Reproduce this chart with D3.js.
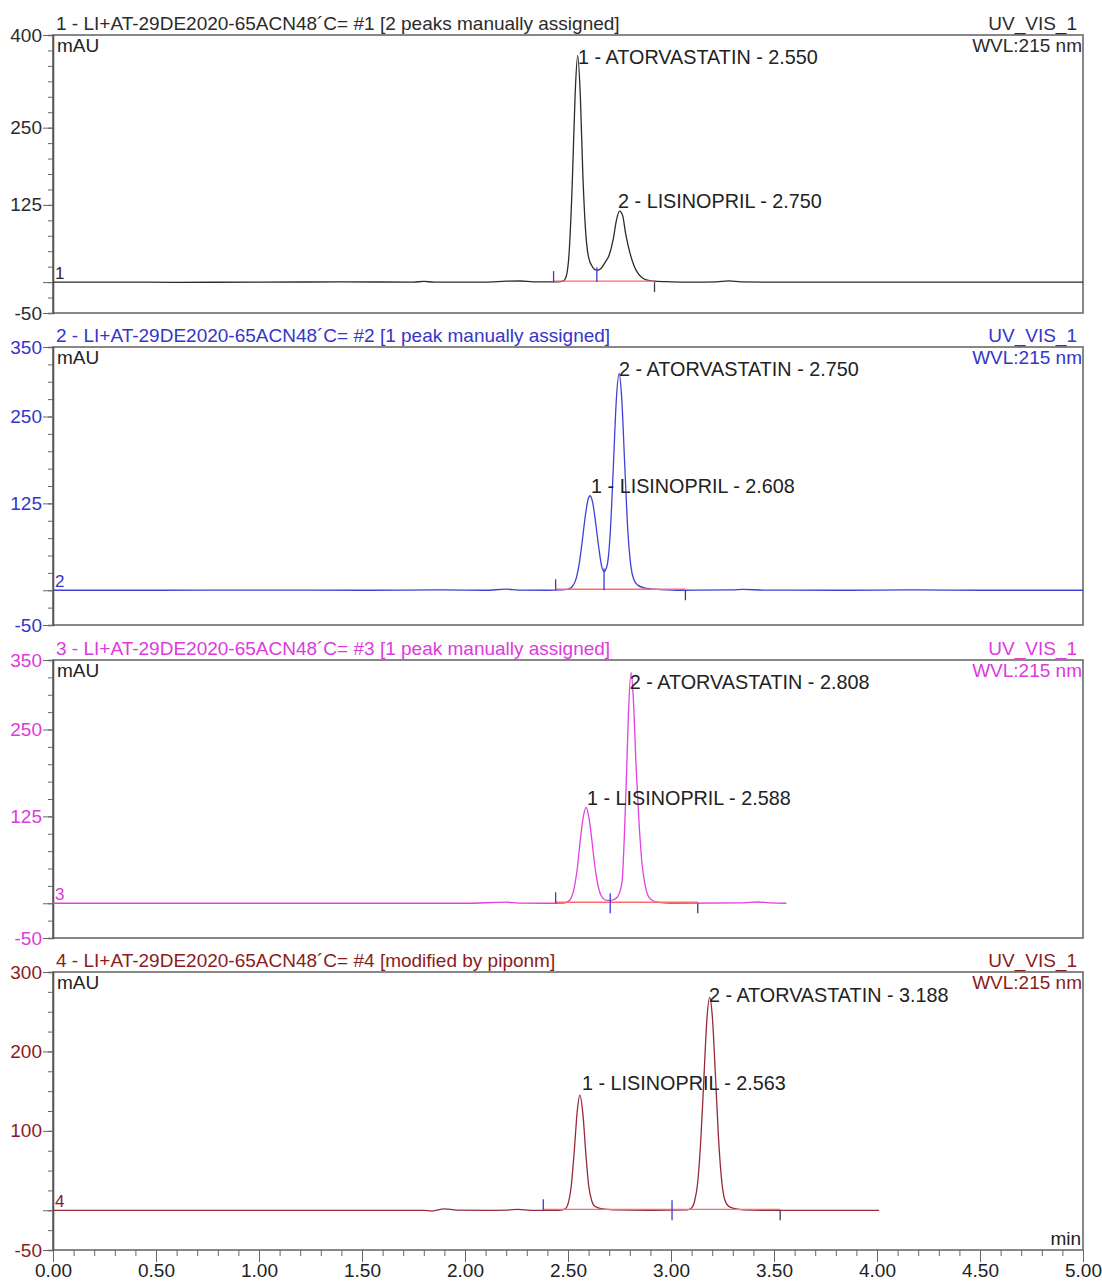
<!DOCTYPE html>
<html><head><meta charset="utf-8">
<script src="https://cdn.jsdelivr.net/npm/d3@7"></script>
<style>
body{margin:0;background:#fff}
text{font-family:"Liberation Sans",Arial,Helvetica,sans-serif}
</style>
</head><body>
<svg id="chart" width="1102" height="1283"></svg>
<script>
// ---------- data ----------
const xTickValues = [0, 0.5, 1, 1.5, 2, 2.5, 3, 3.5, 4, 4.5, 5];
const titles = [
  "1 - LI+AT-29DE2020-65ACN48\u00B4C= #1 [2 peaks manually assigned]",
  "2 - LI+AT-29DE2020-65ACN48\u00B4C= #2 [1 peak manually assigned]",
  "3 - LI+AT-29DE2020-65ACN48\u00B4C= #3 [1 peak manually assigned]",
  "4 - LI+AT-29DE2020-65ACN48\u00B4C= #4 [modified by piponm]"
];
const channelName = "UV_VIS_1";
const wavelength = "WVL:215 nm";
const yDomains = [[-50, 400], [-50, 350], [-50, 350], [-50, 300]];
const yLabelTicks = [[400, 250, 125, -50], [350, 250, 125, -50], [350, 250, 125, -50], [300, 200, 100, -50]];

const trace1 = [[0,0],[0.3,0],[0.6,-0.3],[1.0,0],[1.4,0.3],[1.75,0],[1.8,1.2],[1.85,0],[2.1,0],[2.2,1.5],[2.27,1.8],[2.33,0.5],[2.4,0.3],[2.45,0.5],[2.475,1.5],[2.49,8],[2.505,45],[2.52,153],[2.535,307],[2.547,367],[2.56,300],[2.572,175],[2.585,85],[2.60,40],[2.62,24],[2.64,19],[2.66,22],[2.68,32],[2.70,44],[2.72,70],[2.735,100],[2.75,115],[2.765,108],[2.78,78],[2.80,48],[2.82,27],[2.84,14],[2.86,7],[2.88,3.5],[2.92,1.5],[3.0,0.5],[3.1,0],[3.22,0.5],[3.28,2],[3.34,0.5],[3.5,0],[4.0,0],[4.5,0],[5.0,0]];
const trace2 = [[0,0],[0.5,0],[1.0,0.3],[1.5,0],[1.9,0.5],[2.1,0],[2.2,1.5],[2.26,0.3],[2.4,0],[2.47,0.5],[2.50,1.5],[2.52,5],[2.54,17],[2.555,39],[2.57,73],[2.585,109],[2.597,130],[2.607,136],[2.62,126],[2.635,95],[2.65,60],[2.663,35],[2.675,27],[2.69,36],[2.705,82],[2.72,177],[2.735,276],[2.748,312],[2.76,280],[2.775,183],[2.79,88],[2.805,35],[2.82,15],[2.84,7],[2.87,3.5],[2.90,2],[2.95,1],[3.05,0],[3.3,0.5],[3.35,1.2],[3.45,0.3],[3.8,0],[4.2,0.5],[4.5,0],[5.0,0]];
const trace3 = [[0,0],[0.5,0],[1.0,0],[1.5,0],[2.0,0],[2.2,1.5],[2.26,0.3],[2.4,0],[2.48,0.3],[2.51,5],[2.53,22],[2.545,50],[2.56,92],[2.573,122],[2.587,138],[2.60,126],[2.613,98],[2.626,64],[2.64,34],[2.655,15],[2.67,7],[2.69,4],[2.705,4],[2.72,5],[2.74,9],[2.757,22],[2.765,40],[2.772,85],[2.782,166],[2.793,270],[2.806,332],[2.818,290],[2.83,200],[2.845,115],[2.86,55],[2.875,25],[2.89,10],[2.91,4],[2.95,1],[3.0,0],[3.35,0.5],[3.42,1.8],[3.48,0.5],[3.56,0]];
const trace4 = [[0,0],[0.5,0],[1.0,0],[1.5,0],[1.8,0],[1.84,-1],[1.9,1.8],[1.96,0.3],[2.1,0],[2.2,0.3],[2.26,1.2],[2.32,0],[2.45,0],[2.485,1.5],[2.50,8],[2.515,29],[2.53,73],[2.545,125],[2.558,145],[2.572,122],[2.587,70],[2.60,32],[2.615,12],[2.63,5],[2.66,2],[2.72,0.5],[2.9,0],[3.08,0.5],[3.10,3],[3.115,12],[3.13,36],[3.145,90],[3.16,168],[3.175,243],[3.188,268],[3.20,246],[3.215,174],[3.23,94],[3.245,40],[3.26,14],[3.28,5],[3.31,2],[3.35,0.5],[3.5,0],[3.8,0],[4.01,0]];
const traces = [trace1, trace2, trace3, trace4];

// peak labels: retention time (x), label height in mAU (y), text
const peakLabels = [
  [{t: 2.549, v: 364, text: "1 - ATORVASTATIN - 2.550"}, {t: 2.743, v: 131, text: "2 - LISINOPRIL - 2.750"}],
  [{t: 2.748, v: 318, text: "2 - ATORVASTATIN - 2.750"}, {t: 2.612, v: 150, text: "1 - LISINOPRIL - 2.608"}],
  [{t: 2.800, v: 318, text: "2 - ATORVASTATIN - 2.808"}, {t: 2.592, v: 152, text: "1 - LISINOPRIL - 2.588"}],
  [{t: 3.184, v: 271, text: "2 - ATORVASTATIN - 3.188"}, {t: 2.568, v: 160, text: "1 - LISINOPRIL - 2.563"}]
];
// peak delimiters (min): start, separation, end ; valley height (mAU)
const delimStart = [2.43, 2.44, 2.44, 2.38];
const delimSplit = [2.64, 2.675, 2.705, 3.005];
const delimSplitValue = [19, 27, 4, 0];
const delimEnd = [2.92, 3.07, 3.13, 3.53];

const colors = ["#2b2b2b", "#4040d8", "#e040e0", "#962a3a"];
const labelColors = ["#2b2b2b", "#3535cc", "#dd3add", "#8b1c1c"];

// ---------- layout ----------
const svg = d3.select("#chart");
const left = 53, right = 1083;
const panelTops = [35, 347, 660, 972];
const panelH = 278;
const fontSmall = 19;

const x = d3.scaleLinear().domain([0, 5]).range([left, right]);

panelTops.forEach((top, i) => {
  const g = svg.append("g");
  const y = d3.scaleLinear().domain(yDomains[i]).range([top + panelH, top]);

  // frame
  g.append("rect").attr("x", left).attr("y", top).attr("width", right - left).attr("height", panelH)
    .attr("fill", "none").attr("stroke", "#6a6a6a").attr("stroke-width", 1.6);

  // minor y ticks
  const minor = d3.range(yDomains[i][0], yDomains[i][1] + 1, 25);
  const ax1 = g.append("g").attr("transform", `translate(${left},0)`)
    .call(d3.axisLeft(y).tickValues(minor).tickSize(5).tickFormat(""));
  ax1.select(".domain").attr("stroke", "#555").attr("stroke-width", 1.6);
  ax1.selectAll(".tick line").attr("stroke", "#666");

  // major y ticks with labels
  const major = yLabelTicks[i].concat([0]);
  const ax2 = g.append("g").attr("transform", `translate(${left},0)`)
    .call(d3.axisLeft(y).tickValues(major).tickSize(10).tickPadding(1)
      .tickFormat(d => yLabelTicks[i].includes(d) ? d : ""));
  ax2.select(".domain").remove();
  ax2.selectAll(".tick line").attr("stroke", "#666");
  ax2.selectAll(".tick text").attr("font-size", 19).attr("fill", labelColors[i])
    .style("font-family", '"Liberation Sans",Arial,sans-serif');

  // title & channel
  g.append("text").attr("x", 56).attr("y", top - 5).attr("font-size", fontSmall)
    .attr("fill", labelColors[i]).text(titles[i]);
  g.append("text").attr("x", 1077).attr("y", top - 5).attr("font-size", fontSmall)
    .attr("text-anchor", "end").attr("fill", labelColors[i]).text(channelName);
  g.append("text").attr("x", 1082).attr("y", top + 17).attr("font-size", fontSmall)
    .attr("text-anchor", "end").attr("fill", labelColors[i]).text(wavelength);
  g.append("text").attr("x", 57).attr("y", top + 17).attr("font-size", fontSmall)
    .attr("fill", "#222").text("mAU");

  // trace
  const line = d3.line().x(d => x(d[0])).y(d => y(d[1])).curve(d3.curveMonotoneX);
  g.append("path").datum(traces[i]).attr("d", line).attr("fill", "none")
    .attr("stroke", colors[i]).attr("stroke-width", 1.3);

  // integration baseline
  g.append("line").attr("x1", x(delimStart[i])).attr("x2", x(delimEnd[i]))
    .attr("y1", y(0) - 1).attr("y2", y(0) - 1).attr("stroke", "#ff6a6a").attr("stroke-width", 1.3);

  // delimiters
  g.append("line").attr("x1", x(delimStart[i])).attr("x2", x(delimStart[i]))
    .attr("y1", y(0)).attr("y2", y(0) - 11).attr("stroke", "#3a3ad8").attr("stroke-width", 1.3);
  const sv = delimSplitValue[i];
  g.append("line").attr("x1", x(delimSplit[i])).attr("x2", x(delimSplit[i]))
    .attr("y1", sv > 5 ? y(sv) - 3 : y(0) - 10).attr("y2", sv > 5 ? y(0) : y(0) + 10)
    .attr("stroke", "#3a3ad8").attr("stroke-width", 1.3);
  g.append("line").attr("x1", x(delimEnd[i])).attr("x2", x(delimEnd[i]))
    .attr("y1", y(0)).attr("y2", y(0) + 10).attr("stroke", "#3c3c5a").attr("stroke-width", 1.3);

  // trace index label
  g.append("text").attr("x", 55).attr("y", y(0) - 3).attr("font-size", 17)
    .attr("fill", labelColors[i]).text(String(i + 1));

  // peak labels
  peakLabels[i].forEach(p => {
    g.append("text").attr("x", x(p.t)).attr("y", y(p.v)).attr("dy", "0.35em")
      .attr("font-size", 19.8).attr("fill", "#222").text(p.text);
  });

  // x axis on last panel
  if (i === 3) {
    const minorX = d3.range(0, 5.001, 0.1);
    const axm = g.append("g").attr("transform", `translate(0,${top + panelH})`)
      .call(d3.axisBottom(x).tickValues(minorX).tickSize(6).tickFormat(""));
    axm.select(".domain").remove();
    axm.selectAll(".tick line").attr("stroke", "#666");
    const axM = g.append("g").attr("transform", `translate(0,${top + panelH})`)
      .call(d3.axisBottom(x).tickValues(xTickValues).tickSize(12).tickPadding(2).tickFormat(d3.format(".2f")));
    axM.select(".domain").remove();
    axM.selectAll(".tick line").attr("stroke", "#666");
    axM.selectAll(".tick text").attr("font-size", 19).attr("fill", "#222")
      .style("font-family", '"Liberation Sans",Arial,sans-serif');
    g.append("text").attr("x", 1081).attr("y", top + panelH - 5).attr("font-size", fontSmall)
      .attr("text-anchor", "end").attr("fill", "#222").text("min");
  }
});
</script>
</body></html>
